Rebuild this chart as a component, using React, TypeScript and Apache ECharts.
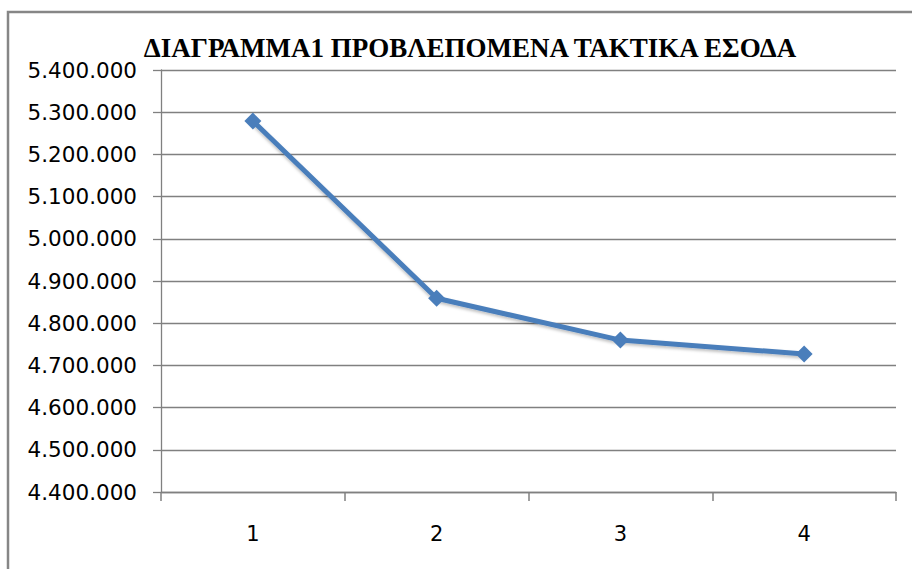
import React, { useEffect, useRef } from "react";
import * as echarts from "echarts";

const titleText = "ΔΙΑΓΡΑΜΜΑ1 ΠΡΟΒΛΕΠΟΜΕΝΑ ΤΑΚΤΙΚΑ ΕΣΟΔΑ";
const categories = ["1", "2", "3", "4"];
const revenue = [5279000, 4859000, 4760000, 4727000];
const yMin = 4400000;
const yMax = 5400000;
const yStep = 100000;

const fmt = (v: number) => String(Math.round(v)).replace(/\B(?=(\d{3})+(?!\d))/g, ".");

export default function App() {
  const ref = useRef<HTMLDivElement>(null);
  useEffect(() => {
    if (!ref.current) return;
    const chart = echarts.init(ref.current, null, { renderer: "svg" });
    chart.setOption({
      animation: false,
      backgroundColor: "#ffffff",
      title: {
        text: titleText,
        left: 465,
        textAlign: "center",
        top: 29,
        textStyle: {
          fontFamily: "Liberation Serif",
          fontWeight: "bold",
          fontSize: 27,
          color: "#000000",
        },
      },
      graphic: [
        {
          type: "rect",
          shape: { x: 8, y: 12, width: 1000, height: 1000 },
          style: { fill: "none", stroke: "#868686", lineWidth: 2.5 },
          silent: true,
        },
      ],
      grid: { left: 161, right: 16, top: 70, bottom: 77 },
      xAxis: {
        type: "category",
        data: categories,
        boundaryGap: true,
        axisLine: { show: true, lineStyle: { color: "#808080", width: 1.3 } },
        axisTick: { show: true, length: 9, lineStyle: { color: "#808080", width: 1.5 } },
        axisLabel: {
          margin: 31,
          fontFamily: "DejaVu Sans",
          fontSize: 21,
          color: "#000000",
        },
      },
      yAxis: {
        type: "value",
        min: yMin,
        max: yMax,
        interval: yStep,
        axisLine: { show: true, lineStyle: { color: "#808080", width: 1.3 } },
        axisTick: { show: true, length: 8, lineStyle: { color: "#808080", width: 1.3 } },
        splitLine: { show: true, lineStyle: { color: "#808080", width: 1.3 } },
        axisLabel: {
          margin: 24,
          fontFamily: "DejaVu Sans",
          fontSize: 21.5,
          color: "#000000",
          formatter: (v: number) => fmt(v),
        },
      },
      series: [
        {
          type: "line",
          data: revenue,
          symbol: "diamond",
          symbolSize: 17,
          lineStyle: {
            color: "#4A7EBB",
            width: 5,
            shadowColor: "rgba(0,0,0,0.25)",
            shadowBlur: 3,
            shadowOffsetY: 2,
          },
          itemStyle: { color: "#4A7EBB" },
        },
      ],
    });
    return () => chart.dispose();
  }, []);
  return (
    <div
      ref={ref}
      style={{ position: "fixed", left: 0, top: 0, width: 912, height: 569 }}
    />
  );
}
